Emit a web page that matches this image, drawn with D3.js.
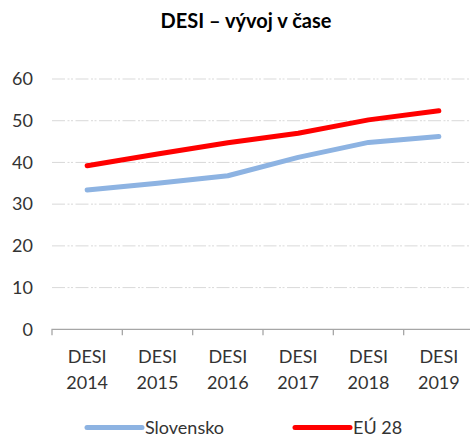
<!DOCTYPE html>
<html>
<head>
<meta charset="utf-8">
<script src="https://cdn.jsdelivr.net/npm/d3@7"></script>
<style>
  body { margin: 0; background: #fff; }
  svg { display: block; font-family: Lato, "Open Sans", sans-serif; }
</style>
</head>
<body>
<div id="chart"></div>
<script>
'use strict';

const categories = ["DESI 2014", "DESI 2015", "DESI 2016", "DESI 2017", "DESI 2018", "DESI 2019"];
const slovensko = [33.4, 35.0, 36.8, 41.2, 44.8, 46.2];
const eu28 = [39.2, 42.0, 44.7, 47.0, 50.2, 52.4];
const yTicks = [0, 10, 20, 30, 40, 50, 60];

const series = [
    { name: "Slovensko", values: slovensko, color: "#8DB3E2" },
    { name: "EÚ 28", values: eu28, color: "#FF0000" }
];

const width = 470, height = 438;
const marginLeft = 52, plotRight = 474, plotTop = 79, plotBottom = 329.3;

const svg = d3.select("#chart")
    .append("svg")
    .attr("width", width)
    .attr("height", height);

// title
svg.append("text")
    .attr("x", 246)
    .attr("y", 28)
    .attr("text-anchor", "middle")
    .style("font-size", "20px")
    .style("font-weight", "bold")
    .style("fill", "#000")
    .text("DESI – vývoj v čase");

const x = d3.scaleBand()
    .domain(categories)
    .range([marginLeft, plotRight]);

const y = d3.scaleLinear()
    .domain([0, 60])
    .range([plotBottom, plotTop]);

// gridlines
svg.append("g")
    .selectAll("line")
    .data(yTicks.filter(d => d > 0))
    .enter()
    .append("line")
    .attr("x1", marginLeft)
    .attr("x2", plotRight)
    .attr("y1", d => y(d))
    .attr("y2", d => y(d))
    .style("stroke", "#D9D9D9")
    .style("stroke-width", 1)
    .style("stroke-dasharray", "13,2.5,2,1.5,2,2.5");

// y axis labels
const yAxis = svg.append("g")
    .attr("transform", "translate(" + marginLeft + ",0)")
    .call(d3.axisLeft(y).tickValues(yTicks).tickSize(0).tickPadding(19));
yAxis.select(".domain").remove();
yAxis.selectAll("text")
    .style("font-size", "18px")
    .style("font-family", "Lato, sans-serif")
    .style("fill", "#333");

// x axis
const xAxis = svg.append("g")
    .attr("transform", "translate(0," + plotBottom + ")")
    .call(d3.axisBottom(x).tickSize(0).tickFormat(""));
xAxis.select(".domain")
    .attr("d", "M" + marginLeft + ",6V0H" + plotRight)
    .style("stroke", "#A6A6A6")
    .style("stroke-width", 1.3);

// category boundary ticks
svg.append("g")
    .selectAll("line")
    .data(categories.slice(1))
    .enter()
    .append("line")
    .attr("x1", d => x(d))
    .attr("x2", d => x(d))
    .attr("y1", plotBottom)
    .attr("y2", plotBottom + 6)
    .style("stroke", "#A6A6A6")
    .style("stroke-width", 1.3);

// category labels on two lines
const labels = svg.append("g")
    .selectAll("text")
    .data(categories)
    .enter()
    .append("text")
    .attr("text-anchor", "middle")
    .style("font-size", "18px")
    .style("fill", "#333");
labels.each(function (d) {
    const parts = d.split(" ");
    const cx = x(d) + x.bandwidth() / 2;
    d3.select(this).append("tspan").attr("x", cx).attr("y", 363).text(parts[0]);
    d3.select(this).append("tspan").attr("x", cx).attr("y", 389).text(parts[1]);
});

// lines
const line = d3.line()
    .x((d, i) => x(categories[i]) + x.bandwidth() / 2)
    .y(d => y(d));

svg.append("g")
    .selectAll("path")
    .data(series)
    .enter()
    .append("path")
    .attr("d", d => line(d.values))
    .style("fill", "none")
    .style("stroke", d => d.color)
    .style("stroke-width", 5)
    .style("stroke-linecap", "round")
    .style("stroke-linejoin", "round");

// legend
const legendX = [87, 295];
const legend = svg.append("g")
    .selectAll("g")
    .data(series)
    .enter()
    .append("g")
    .attr("transform", (d, i) => "translate(" + legendX[i] + ",427.5)");
legend.append("line")
    .attr("x1", 0)
    .attr("x2", 55)
    .style("stroke", d => d.color)
    .style("stroke-width", 5)
    .style("stroke-linecap", "round");
legend.append("text")
    .attr("x", 58)
    .attr("y", 6)
    .style("font-size", "18px")
    .style("fill", "#333")
    .text(d => d.name);
</script>
</body>
</html>
